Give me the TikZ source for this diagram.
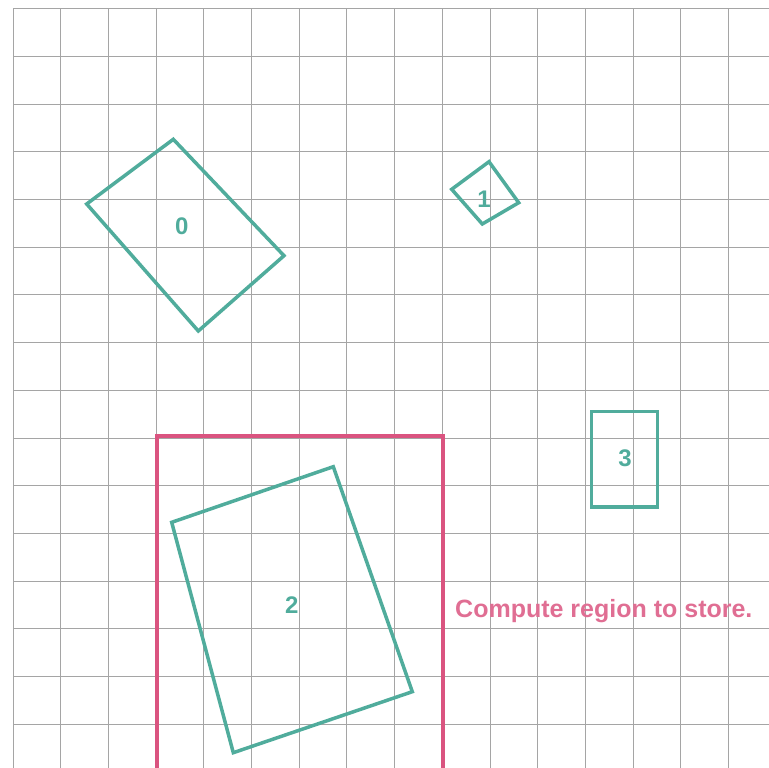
\documentclass[tikz,border=0pt]{standalone}
\usepackage{fontspec}
\setmainfont{Liberation Sans}
\usetikzlibrary{positioning}
\definecolor{boxteal}{RGB}{80,172,156}
\definecolor{regionpink}{RGB}{218,84,128}
\definecolor{gridgray}{RGB}{165,165,165}
\tikzset{
	gridline/.style={gridgray, line width=1pt},
	bbox/.style={boxteal, line width=3.5pt, line join=miter},
	region/.style={regionpink, line width=3.8pt},
	boxlabel/.style={text=boxteal, inner sep=0pt, font=\bfseries\fontsize{24}{28}\selectfont},
	regionlabel/.style={text=regionpink!85!white, inner sep=0pt, font=\bfseries\fontsize{25}{30}\selectfont}
}

\begin{document}
\begin{tikzpicture}[x=1pt, y=-1pt]
\useasboundingbox (0,0) rectangle (769,768);
% grid
\foreach \i in {0,...,15} {
  \draw [gridline] ({13+47.7*\i},8.7) -- ({13+47.7*\i},768);
  \draw [gridline] (13,{8.7+47.7*\i}) -- (769,{8.7+47.7*\i});
}
% box 0
\coordinate (a0) at (173.3,139.3);
\coordinate (b0) at (284,255.7);
\coordinate (c0) at (198.3,331);
\coordinate (d0) at (86.7,204);
\draw [bbox] (a0) -- (b0) -- (c0) -- (d0) -- cycle;
\node [boxlabel] (l0) at (181.7,226.7) {0};
% box 1
\coordinate (a1) at (489,161.7);
\coordinate (b1) at (518.7,202.7);
\coordinate (c1) at (482.3,224);
\coordinate (d1) at (451.7,189.3);
\draw [bbox] (a1) -- (b1) -- (c1) -- (d1) -- cycle;
\node [boxlabel] (l1) at (484,199.3) {1};
% box 2
\coordinate (a2) at (333.3,466.7);
\coordinate (b2) at (412.3,691.7);
\coordinate (c2) at (233.3,752.7);
\coordinate (d2) at (171.7,522.3);
\draw [bbox] (a2) -- (b2) -- (c2) -- (d2) -- cycle;
\node [boxlabel] (l2) at (291.7,605) {2};
% box 3
\coordinate (a3) at (591.7,411.7);
\coordinate (c3) at (657.7,507);
\draw [bbox] (a3) rectangle (c3);
\node [boxlabel] (l3) at (625,458.3) {3};
% region
\coordinate (r0) at (156.7,435.7);
\coordinate (r1) at (443.3,775);
\draw [region] (r0) rectangle (r1);
\node [regionlabel, anchor=base west] (store) at (455,617) {Compute region to store.};
\end{tikzpicture}
\end{document}
